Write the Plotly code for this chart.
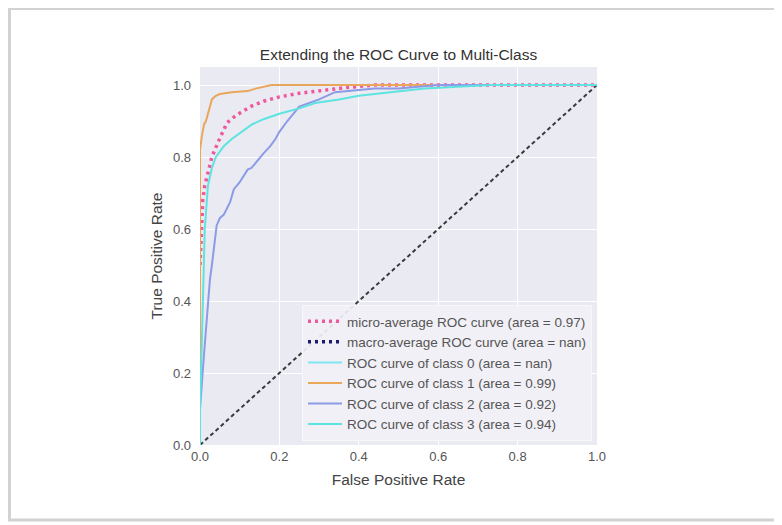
import numpy as np
import plotly.graph_objects as go

# ---- data ----
micro_fpr = [0, 0.003, 0.007, 0.012, 0.02, 0.03, 0.045, 0.068, 0.09, 0.127, 0.16, 0.2, 0.25, 0.31, 0.37, 0.44, 0.6, 0.8, 1.0]
micro_tpr = [0.5, 0.6, 0.68, 0.72, 0.76, 0.8, 0.84, 0.895, 0.915, 0.94, 0.955, 0.967, 0.977, 0.986, 0.993, 1.0, 1.0, 1.0, 1.0]

macro_fpr = [np.nan]
macro_tpr = [np.nan]

class0_fpr = [np.nan]
class0_tpr = [np.nan]

class1_fpr = [0, 0, 0.005, 0.01, 0.015, 0.02, 0.025, 0.03, 0.04, 0.05, 0.08, 0.12, 0.14, 0.16, 0.18, 1.0]
class1_tpr = [0, 0.82, 0.86, 0.89, 0.9, 0.92, 0.94, 0.96, 0.97, 0.975, 0.98, 0.983, 0.99, 0.995, 1.0, 1.0]

class2_fpr = [0, 0, 0.01, 0.02, 0.025, 0.03, 0.035, 0.042, 0.05, 0.06, 0.076, 0.085, 0.1, 0.12, 0.13, 0.144, 0.16, 0.177, 0.19, 0.2, 0.22, 0.25, 0.3, 0.34, 0.44, 0.5, 0.6, 1.0]
class2_tpr = [0, 0.1, 0.25, 0.4, 0.46, 0.5, 0.54, 0.61, 0.63, 0.64, 0.675, 0.71, 0.73, 0.765, 0.77, 0.79, 0.81, 0.83, 0.85, 0.87, 0.9, 0.94, 0.96, 0.98, 0.99, 0.99, 1.0, 1.0]

class3_fpr = [0, 0, 0.005, 0.008, 0.012, 0.02, 0.03, 0.04, 0.06, 0.08, 0.1, 0.13, 0.16, 0.2, 0.25, 0.29, 0.35, 0.4, 0.48, 0.565, 0.65, 0.73, 1.0]
class3_tpr = [0, 0.1, 0.3, 0.45, 0.6, 0.72, 0.77, 0.8, 0.83, 0.85, 0.867, 0.89, 0.905, 0.92, 0.935, 0.95, 0.96, 0.97, 0.98, 0.99, 0.995, 1.0, 1.0]

chance_x = [0, 1]
chance_y = [0, 1]

names = [
    "micro-average ROC curve (area = 0.97)",
    "macro-average ROC curve (area = nan)",
    "ROC curve of class 0 (area = nan)",
    "ROC curve of class 1 (area = 0.99)",
    "ROC curve of class 2 (area = 0.92)",
    "ROC curve of class 3 (area = 0.94)",
]
x_ticks = [0.0, 0.2, 0.4, 0.6, 0.8, 1.0]
y_ticks = [0.0, 0.2, 0.4, 0.6, 0.8, 1.0]

FONT = "Liberation Sans, Arial, sans-serif"

fig = go.Figure()

fig.add_trace(go.Scatter(x=chance_x, y=chance_y, mode="lines", showlegend=False,
                         line=dict(color="#3a3a3a", width=2, dash="4px,3px"), hoverinfo="skip"))

fig.add_trace(go.Scatter(x=micro_fpr, y=micro_tpr, mode="lines", name=names[0],
                         line=dict(color="#F0579C", width=3.5, dash="3px,4px")))
fig.add_trace(go.Scatter(x=macro_fpr, y=macro_tpr, mode="lines", name=names[1],
                         line=dict(color="#1b1b6a", width=3.5, dash="3px,4px")))
fig.add_trace(go.Scatter(x=class0_fpr, y=class0_tpr, mode="lines", name=names[2],
                         line=dict(color="#7FE6F2", width=2)))
fig.add_trace(go.Scatter(x=class1_fpr, y=class1_tpr, mode="lines", name=names[3],
                         line=dict(color="#E8A75A", width=2)))
fig.add_trace(go.Scatter(x=class2_fpr, y=class2_tpr, mode="lines", name=names[4],
                         line=dict(color="#8C9BE6", width=2)))
fig.add_trace(go.Scatter(x=class3_fpr, y=class3_tpr, mode="lines", name=names[5],
                         line=dict(color="#5DE3E0", width=2)))

# page offset (browser body margin) and target plot area, in screen pixels
OFF = 8
L, R, T, B = 200, 597, 67, 445
W, H = 782, 525
l_m, t_m = L - OFF, T - OFF
r_m, b_m = W - (R - OFF), H - (B - OFF)

def px_x(p):
    return (p - L) / (R - L)

def px_y(p):
    return (B - p) / (B - T)

# light frame around the picture
fig.add_shape(type="rect", xref="paper", yref="paper",
              x0=px_x(9.5), x1=px_x(779), y0=px_y(520), y1=px_y(8.5),
              line=dict(color="#d2d2d2", width=3), fillcolor="rgba(0,0,0,0)", layer="below")

fig.update_layout(
    width=W, height=H,
    margin=dict(l=l_m, r=r_m, t=t_m, b=b_m),
    paper_bgcolor="white",
    plot_bgcolor="#EAEAF2",
    font=dict(family=FONT, color="#444444", size=13),
    title=dict(text="Extending the ROC Curve to Multi-Class", x=((L + R) / 2 - OFF) / W, xanchor="center",
               y=1 - (55 - OFF) / H, yanchor="middle", font=dict(size=15.5, color="#333333")),
    showlegend=True,
    legend=dict(x=px_x(592), y=px_y(441), xanchor="right", yanchor="bottom",
                bgcolor="rgba(241,240,246,0.92)", bordercolor="#f7f7fa", borderwidth=1,
                font=dict(size=13.5, color="#555555"), itemwidth=34, tracegroupgap=0),
)
fig.update_xaxes(range=[0, 1], tickvals=x_ticks, tickformat=".1f", showgrid=True, gridcolor="white",
                 gridwidth=1, zeroline=False, showline=False, ticks="",
                 tickfont=dict(size=13, color="#555555"), ticklabelstandoff=2,
                 title=dict(text="False Positive Rate", font=dict(size=15.5, color="#444444"), standoff=11))
fig.update_yaxes(range=[0, 1.05], tickvals=y_ticks, tickformat=".1f", showgrid=True, gridcolor="white",
                 gridwidth=1, zeroline=False, showline=False, ticks="",
                 tickfont=dict(size=13, color="#555555"), ticklabelstandoff=8,
                 title=dict(text="True Positive Rate", font=dict(size=15.5, color="#444444"), standoff=6))

fig.write_html("out.html")
